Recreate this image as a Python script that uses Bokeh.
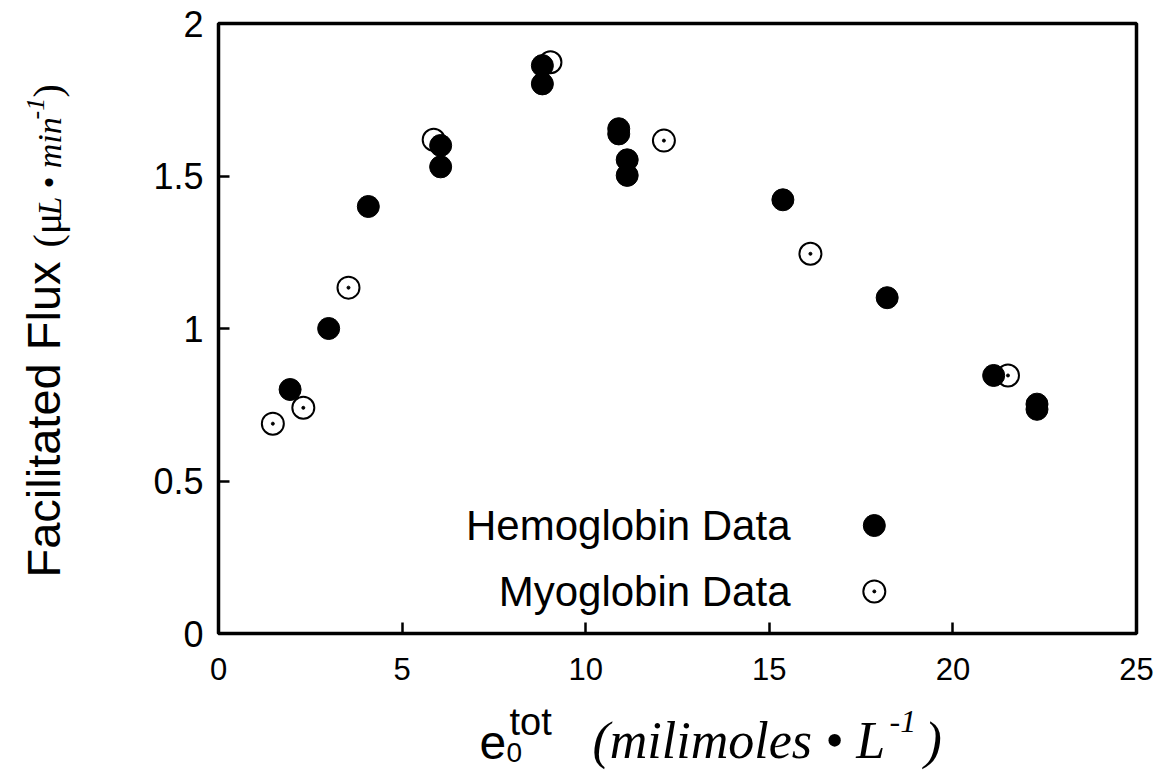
import math
from bokeh.plotting import figure
from bokeh.models import Label, FixedTicker, Range1d
from bokeh.layouts import row, column
from bokeh.embed import file_html
from bokeh.resources import INLINE

# ---- data ----
hb_x = [1.95, 3.0, 4.08, 6.05, 6.05, 8.82, 8.82, 10.9, 10.9, 11.13, 11.13, 15.37, 18.21, 21.11, 22.29, 22.29]
hb_y = [0.80, 1.00, 1.40, 1.60, 1.53, 1.862, 1.802, 1.655, 1.638, 1.553, 1.502, 1.422, 1.101, 0.846, 0.752, 0.735]
mb_x = [1.48, 2.31, 3.54, 5.86, 9.04, 12.13, 16.12, 21.5]
mb_y = [0.688, 0.740, 1.134, 1.619, 1.873, 1.616, 1.245, 0.846]

x_ticks = [0, 5, 10, 15, 20, 25]
y_ticks = [0, 0.5, 1, 1.5, 2]
y_tick_labels = ["0", "0.5", "1", "1.5", "2"]

legend_names = ["Hemoglobin Data", "Myoglobin Data"]
legend_x = [17.86, 17.86]
legend_y = [0.354, 0.138]

W, H = 1168, 771
YL_W = 100          # width of the strip holding the y-axis title
XL_H = 71           # height of the strip holding the x-axis title
X0, X1, Y0, Y1 = 0, 25, 0, 2
FL, FR, FT, FB = 218, 1136, 23, 633  # frame pixel edges on the page


def dx(px):
    return X0 + (px - FL) * (X1 - X0) / (FR - FL)


p = figure(width=W - YL_W, height=H - XL_H, output_backend="svg", toolbar_location=None,
           x_range=Range1d(X0, X1), y_range=Range1d(Y0, Y1),
           frame_width=FR - FL, frame_height=FB - FT,
           min_border_left=FL - YL_W, min_border_right=W - FR,
           min_border_top=FT, min_border_bottom=H - XL_H - FB)
p.background_fill_color = "white"
p.border_fill_color = "white"
p.outline_line_color = "black"
p.outline_line_width = 3.5
p.xgrid.visible = False
p.ygrid.visible = False

for ax in (p.xaxis[0], p.yaxis[0]):
    ax.axis_line_color = None
    ax.major_tick_in = 11
    ax.major_tick_out = 0
    ax.major_tick_line_width = 2.5
    ax.major_tick_line_color = "black"
    ax.minor_tick_line_color = None
    ax.major_label_text_font = "Liberation Sans"
    ax.major_label_text_color = "black"
    ax.major_label_text_font_style = "normal"

p.xaxis.ticker = FixedTicker(ticks=x_ticks)
p.yaxis.ticker = FixedTicker(ticks=y_ticks)
p.yaxis.major_label_overrides = {t: s for t, s in zip(y_ticks, y_tick_labels)}
p.xaxis.major_label_text_font_size = "31px"
p.yaxis.major_label_text_font_size = "36px"
p.xaxis.major_label_standoff = 24
p.yaxis.major_label_standoff = 15

# ---- data marks ----
p.scatter(mb_x, mb_y, size=22, marker="circle", fill_color="white",
          line_color="black", line_width=2)
p.scatter(mb_x, mb_y, size=3, marker="circle", fill_color="black", line_color="black")
p.scatter(hb_x, hb_y, size=22, marker="circle", fill_color="black", line_color="black")

# ---- legend (text left of marker) ----
p.scatter(legend_x[:1], legend_y[:1], size=22, marker="circle", fill_color="black", line_color="black")
p.scatter(legend_x[1:], legend_y[1:], size=22, marker="circle", fill_color="white",
          line_color="black", line_width=2)
p.scatter(legend_x[1:], legend_y[1:], size=3, marker="circle", fill_color="black", line_color="black")
for name, ly in zip(legend_names, legend_y):
    p.add_layout(Label(x=dx(790), y=ly, text=name, text_align="right",
                       text_baseline="middle", text_font="Liberation Sans",
                       text_font_size="42px", text_color="black"))


def strip(width, height, xr, yr):
    f = figure(width=width, height=height, output_backend="svg", toolbar_location=None,
               x_range=Range1d(*xr), y_range=Range1d(*yr),
               x_axis_location=None, y_axis_location=None, min_border=0)
    f.outline_line_color = None
    f.background_fill_color = "white"
    f.border_fill_color = "white"
    f.grid.visible = False
    return f


# strips use page-pixel coordinates (y grows downward).
# The x strip's frame is aligned with the main frame by the column layout.
px_strip = strip(W - YL_W, XL_H, (FL, FR), (H, H - XL_H))
py_strip = strip(YL_W, H, (0, YL_W), (H, 0))


def lab(fig, px, py, text, font="Liberation Sans", size=40, style="normal", angle=0.0):
    fig.add_layout(Label(x=px, y=py, text=text, text_font=font,
                         text_font_size=f"{size}px", text_font_style=style,
                         text_align="left", text_baseline="middle", angle=angle,
                         text_color="black"))


# ---- x axis title: e0^tot (milimoles • L^-1) ----
lab(px_strip, 479, 742, "e", size=48)
lab(px_strip, 506, 752, "0", size=28)
lab(px_strip, 509, 721, "tot", size=38)
lab(px_strip, 592, 740, "(milimoles \u2022 L", font="Liberation Serif", size=52, style="italic")
lab(px_strip, 889, 721, "-1", font="Liberation Serif", size=32, style="italic")
lab(px_strip, 924, 740, ")", font="Liberation Serif", size=52, style="italic")

# ---- y axis title: Facilitated Flux (μL • min^-1), rotated ----
A = math.pi / 2
lab(py_strip, 43, 577, "Facilitated Flux", size=47, angle=A)
lab(py_strip, 47, 247, "(\u03bc", font="Liberation Serif", size=40, angle=A)
lab(py_strip, 49, 215, "L \u2022 min", font="Liberation Serif", size=34, style="italic", angle=A)
lab(py_strip, 35, 119, "-1", font="Liberation Serif", size=26, style="italic", angle=A)
lab(py_strip, 47, 97, ")", font="Liberation Serif", size=40, angle=A)

layout = row(py_strip, column(p, px_strip, spacing=0), spacing=0)
open("out.html", "w").write(file_html(layout, INLINE))
